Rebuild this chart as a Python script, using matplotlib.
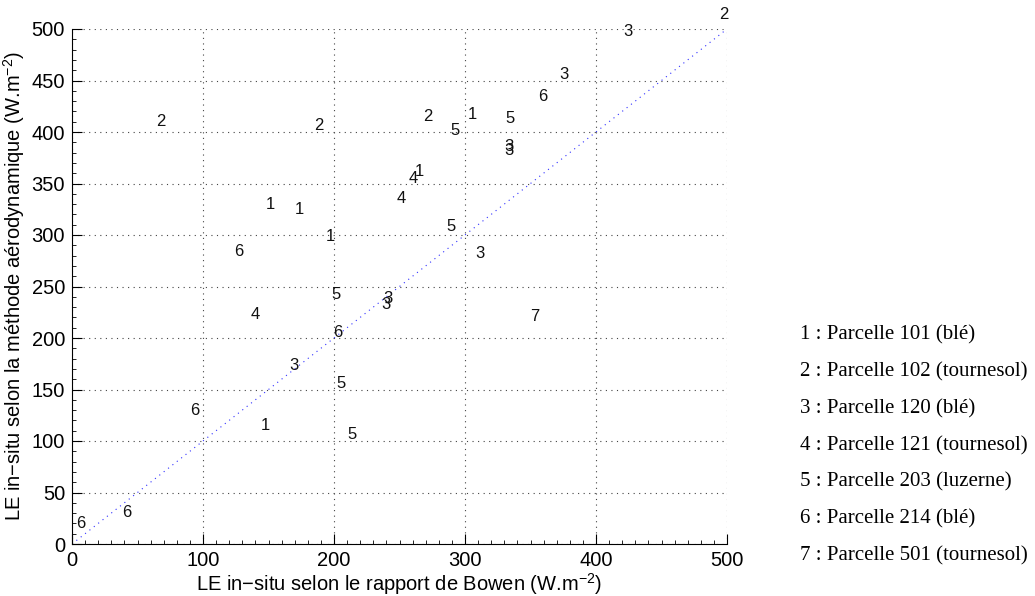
import matplotlib
matplotlib.use("Agg")
import matplotlib.pyplot as plt
from matplotlib.ticker import MultipleLocator

plt.rcParams['font.family'] = ['Liberation Sans', 'DejaVu Sans']

# LE Bowen (x) vs LE aerodynamic method (y), one pair of lists per parcel
p1_x = [148, 170, 194, 302, 262, 144]
p1_y = [330, 325, 299, 417, 362, 115]
p2_x = [64, 185, 268, 494]
p2_y = [410, 406, 415, 514]
p3_x = [421, 372, 330, 330, 308, 238, 236, 166]
p3_y = [498, 456, 386, 382, 282, 238, 233, 173]
p4_x = [257, 248, 136]
p4_y = [355, 335, 223]
p5_x = [289, 331, 286, 198, 202, 210]
p5_y = [401, 413, 308, 242, 156, 106]
p6_x = [356, 124, 199, 90, 38, 3]
p6_y = [434, 284, 205, 130, 31, 20]
p7_x = [350]
p7_y = [221]

parcels = [(p1_x, p1_y), (p2_x, p2_y), (p3_x, p3_y), (p4_x, p4_y),
           (p5_x, p5_y), (p6_x, p6_y), (p7_x, p7_y)]
legend_labels = ["1 : Parcelle 101 (blé)", "2 : Parcelle 102 (tournesol)",
                 "3 : Parcelle 120 (blé)", "4 : Parcelle 121 (tournesol)",
                 "5 : Parcelle 203 (luzerne)", "6 : Parcelle 214 (blé)",
                 "7 : Parcelle 501 (tournesol)"]
ref_line = [0, 500]

fig = plt.figure(figsize=(10.35, 5.96), dpi=100)
ax = fig.add_axes([72 / 1035, 52 / 596, 655 / 1035, 515 / 596])

ax.plot(ref_line, ref_line, color='#3030ff', lw=0.8, linestyle=(0, (1, 4)))

for k, (xs, ys) in enumerate(parcels, start=1):
    for x, y in zip(xs, ys):
        ax.text(x, y, str(k), ha='left', va='center', fontsize=12,
                color='#111111', clip_on=False)

ax.set_xlim(0, 500)
ax.set_ylim(0, 500)
ax.xaxis.set_major_locator(MultipleLocator(100))
ax.yaxis.set_major_locator(MultipleLocator(50))
ax.xaxis.set_minor_locator(MultipleLocator(10))
ax.yaxis.set_minor_locator(MultipleLocator(10))
ax.tick_params(which='both', direction='in', labelsize=14.5, color='black')
ax.tick_params(which='major', length=7, width=0.8, pad=5)
ax.tick_params(which='minor', length=3, width=0.6)
ax.spines['top'].set_visible(False)
ax.spines['right'].set_visible(False)
ax.grid(True, which='major', color='#444444', lw=0.8, linestyle=(0, (1, 4)))

ax.set_xlabel(r"LE in−situ selon le rapport de Bowen (W.m$^{\mathregular{-2}}$)",
              fontsize=14.5, labelpad=1)
ax.set_ylabel(r"LE in−situ selon la méthode aérodynamique (W.m$^{\mathregular{-2}}$)",
              fontsize=14.5, labelpad=3)

for i, lab in enumerate(legend_labels):
    fig.text(800 / 1035, 1 - (335 + i * 36.8) / 596, lab, ha='left', va='center',
             fontsize=15, family=['Liberation Serif', 'DejaVu Serif'])

fig.savefig("out.png", dpi=100)
